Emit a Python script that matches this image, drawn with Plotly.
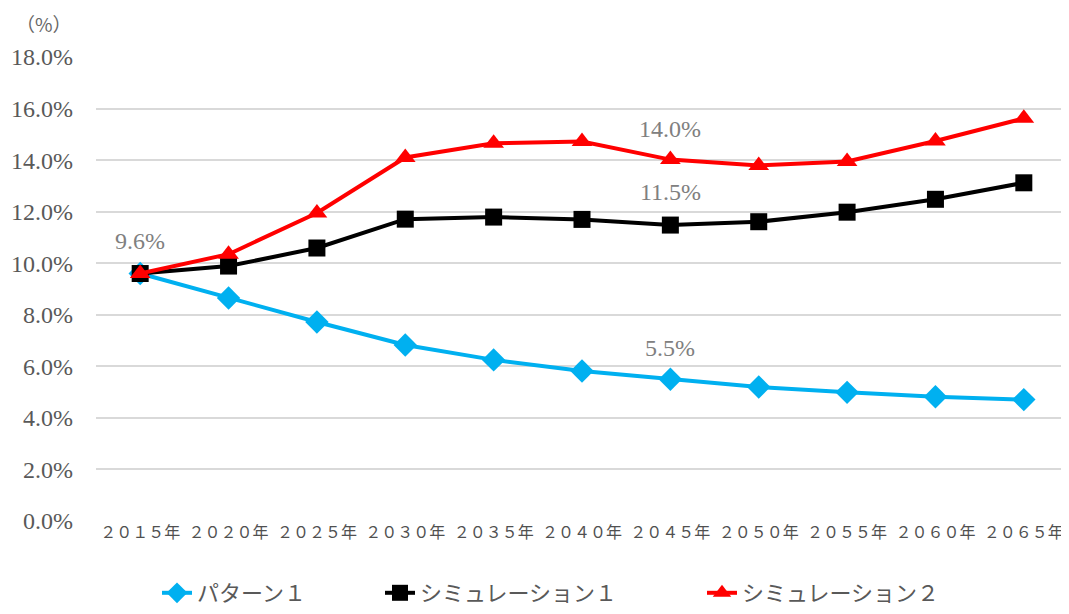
import plotly.graph_objects as go

years = ["２０１５年", "２０２０年", "２０２５年", "２０３０年", "２０３５年", "２０４０年",
         "２０４５年", "２０５０年", "２０５５年", "２０６０年", "２０６５年"]
pattern1 = [9.6, 8.65, 7.72, 6.83, 6.25, 5.82, 5.5, 5.2, 4.99, 4.82, 4.71]
sim1 = [9.6, 9.89, 10.59, 11.71, 11.79, 11.7, 11.48, 11.61, 11.98, 12.48, 13.12]
sim2 = [9.6, 10.35, 11.95, 14.1, 14.65, 14.72, 14.02, 13.79, 13.95, 14.74, 15.62]

y_ticks = [0, 2, 4, 6, 8, 10, 12, 14, 16, 18]
y_tick_text = [f"{v:.1f}%" for v in y_ticks]

label_names = ["パターン１", "シミュレーション１", "シミュレーション２"]

ann_x = [years[0], years[6], years[6], years[6]]
ann_text = ["9.6%", "14.0%", "11.5%", "5.5%"]
ann_y = [10.85, 15.2, 12.75, 6.7]

NUM_FONT = "Liberation Serif, Noto Sans CJK JP, serif"
JP_FONT = "Noto Sans CJK JP, sans-serif"

colors = ["#00b0f0", "#000000", "#ff0000"]
symbols = ["diamond", "square", "triangle-up"]
sizes = [18, 17, 18]
series = [pattern1, sim1, sim2]
legend_ids = ["legend", "legend2", "legend3"]

fig = go.Figure()
for name, vals, c, s, sz, lg in zip(label_names, series, colors, symbols, sizes, legend_ids):
    fig.add_trace(go.Scatter(
        x=years, y=vals, name=name, mode="lines+markers", legend=lg,
        line=dict(color=c, width=4),
        marker=dict(symbol=s, size=sz, color=c)))

for xv, tv, yv in zip(ann_x, ann_text, ann_y):
    fig.add_annotation(x=xv, y=yv, text=tv, showarrow=False,
                       font=dict(family=NUM_FONT, size=24, color="#808080"))

fig.add_annotation(xref="paper", yref="paper", x=(14 - 96) / 972, y=(513 - 15) / 464,
                   xanchor="left", yanchor="middle", text="（%）",
                   showarrow=False,
                   font=dict(family=JP_FONT, size=19, color="#666666"))

# legend text start positions (page px) -> container fraction
legend_text_x = [197, 420, 742]
legend_common = dict(orientation="h", xref="container", yref="container",
                     xanchor="left", yanchor="middle", y=1 - 585 / 606,
                     bgcolor="rgba(0,0,0,0)",
                     font=dict(family=JP_FONT, size=22, color="#595959"))

fig.update_layout(
    width=1061, height=606,
    paper_bgcolor="white", plot_bgcolor="white",
    margin=dict(l=88, r=1, t=49, b=93, autoexpand=False),
    showlegend=True,
    legend=dict(x=(legend_text_x[0] - 8 - 40) / 1061, **legend_common),
    legend2=dict(x=(legend_text_x[1] - 8 - 40) / 1061, **legend_common),
    legend3=dict(x=(legend_text_x[2] - 8 - 40) / 1061, **legend_common),
    xaxis=dict(type="category", range=[-0.5, 10.5], showgrid=False,
               zeroline=False, showline=False, ticks="", automargin=False,
               tickfont=dict(family=JP_FONT, size=16, color="#505050")),
    yaxis=dict(range=[0, 18], tickvals=y_ticks, ticktext=y_tick_text,
               showgrid=True, gridcolor="#d9d9d9", gridwidth=1.5,
               zeroline=False, showline=False, ticks="", ticklen=0,
               ticklabelstandoff=22, automargin=False,
               tickfont=dict(family=NUM_FONT, size=24, color="#595959")),
)

fig.write_html("out.html")
